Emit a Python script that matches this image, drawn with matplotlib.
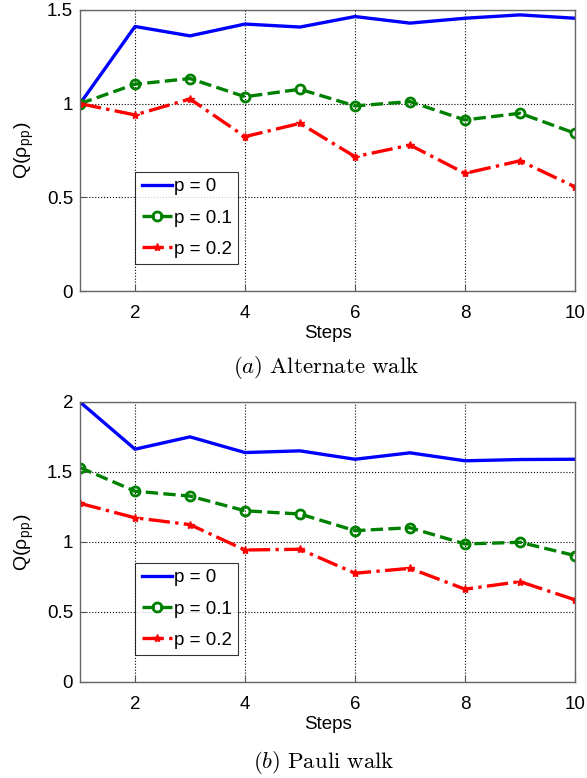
import numpy as np
import matplotlib
matplotlib.use('Agg')
import matplotlib.pyplot as plt

plt.rcParams['font.family'] = ['Liberation Sans', 'DejaVu Sans']
plt.rcParams['mathtext.fontset'] = 'cm'

steps = [1, 2, 3, 4, 5, 6, 7, 8, 9, 10]
labels = ['p = 0', 'p = 0.1', 'p = 0.2']

# (a) Alternate walk
alt_p0 = [1.0, 1.412, 1.362, 1.425, 1.409, 1.465, 1.430, 1.456, 1.474, 1.456]
alt_p1 = [1.0, 1.104, 1.134, 1.037, 1.077, 0.988, 1.011, 0.913, 0.949, 0.842]
alt_p2 = [1.0, 0.940, 1.025, 0.824, 0.895, 0.717, 0.779, 0.628, 0.695, 0.556]

# (b) Pauli walk
pau_p0 = [2.0, 1.663, 1.751, 1.639, 1.651, 1.591, 1.637, 1.580, 1.589, 1.591]
pau_p1 = [1.532, 1.363, 1.328, 1.223, 1.200, 1.081, 1.102, 0.986, 0.998, 0.903]
pau_p2 = [1.276, 1.173, 1.124, 0.943, 0.948, 0.777, 0.812, 0.663, 0.717, 0.587]

fig = plt.figure(figsize=(5.87, 7.78), dpi=100)
W, H = 587, 778


def draw(ax, y0, y1, y2, ymax, yticks, yticklabels):
    ax.plot(steps, y0, color='#0000ff', lw=2.4, label=labels[0])
    ax.plot(steps, y1, color='#008000', lw=2.4, ls='--', marker='o',
            ms=6.5, mfc='none', mew=2, label=labels[1])
    ax.plot(steps, y2, color='#ff0000', lw=2.4, ls='-.', marker='*',
            ms=6, label=labels[2])
    ax.set_xlim(1, 10)
    ax.set_ylim(0, ymax)
    ax.set_xticks([2, 4, 6, 8, 10])
    ax.set_yticks(yticks)
    ax.set_yticklabels(yticklabels)
    ax.tick_params(direction='in', labelsize=13.5, length=4, color='#555555')
    ax.tick_params(axis='x', pad=10)
    ax.tick_params(axis='y', pad=5)
    ax.grid(True, color='black', ls=':', lw=0.8)
    for s in ax.spines.values():
        s.set_color('#666666')
        s.set_linewidth(1.0)
    ax.set_xlabel('Steps', fontsize=13.5, labelpad=2)
    ax.set_ylabel('Q(ρ$_{\\mathregular{pp}}$)', fontsize=14, labelpad=8)
    leg = ax.legend(loc='lower left', bbox_to_anchor=(0.112, 0.095), fontsize=13.5,
                    frameon=True, fancybox=False, edgecolor='black',
                    handlelength=1.6, handletextpad=0.1, borderpad=0.35,
                    labelspacing=0.75, borderaxespad=0)
    leg.get_frame().set_linewidth(0.8)


ax1 = fig.add_axes([80 / W, 1 - 291 / H, 495 / W, 281 / H])
draw(ax1, alt_p0, alt_p1, alt_p2, 1.5, [0, 0.5, 1, 1.5], ['0', '0.5', '1', '1.5'])
ax2 = fig.add_axes([80 / W, 1 - 682 / H, 495 / W, 280 / H])
draw(ax2, pau_p0, pau_p1, pau_p2, 2, [0, 0.5, 1, 1.5, 2], ['0', '0.5', '1', '1.5', '2'])

fig.text(326 / W, 1 - 367 / H, r'$(a)\ \mathrm{Alternate\ walk}$', ha='center', va='center', fontsize=16.5)
fig.text(324 / W, 1 - 762 / H, r'$(b)\ \mathrm{Pauli\ walk}$', ha='center', va='center', fontsize=16.5)

fig.savefig('out.png', dpi=100)
